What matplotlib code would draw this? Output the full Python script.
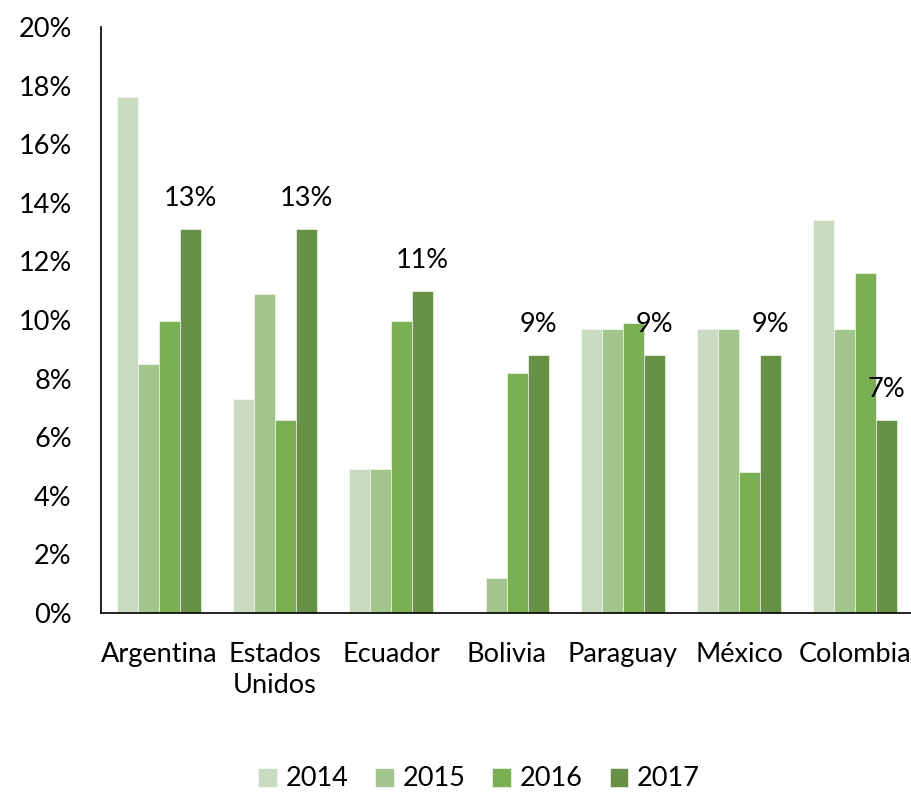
import numpy as np
import matplotlib
matplotlib.use('Agg')
from matplotlib import pyplot as plt
from matplotlib.ticker import FuncFormatter

plt.rcParams['font.family'] = ['Lato', 'DejaVu Sans']

countries = ['Argentina', 'Estados\nUnidos', 'Ecuador', 'Bolivia', 'Paraguay', 'México', 'Colombia']
years = ['2014', '2015', '2016', '2017']
v2014 = [17.6, 7.3, 4.9, 0.0, 9.7, 9.7, 13.4]
v2015 = [8.5, 10.9, 4.9, 1.2, 9.7, 9.7, 9.7]
v2016 = [9.95, 6.6, 9.95, 8.2, 9.9, 4.8, 11.6]
v2017 = [13.1, 13.1, 11.0, 8.8, 8.8, 8.8, 6.6]
labels2017 = ['13%', '13%', '11%', '9%', '9%', '9%', '7%']

colors = ['#C9DBC0', '#A2C58E', '#7AAF52', '#679245']
fs = 19.5

fig = plt.figure(figsize=(9.12, 7.93), dpi=100)
ax = fig.add_axes([101 / 912, 1 - 613 / 793, 812 / 912, 586 / 793])

x = np.arange(len(countries))
w = 0.18
series = [v2014, v2015, v2016, v2017]
for i, (vals, col, yr) in enumerate(zip(series, colors, years)):
    ax.bar(x + (i - 1.5) * w, vals, w, color=col, label=yr,
           edgecolor='white', linewidth=0.4)

for xi, val, lab in zip(x, v2017, labels2017):
    ax.annotate(lab, xy=(xi + 1.5 * w, val), xytext=(0, 13), textcoords='offset points',
                ha='center', va='bottom', fontsize=fs)

ax.set_xlim(-0.5, 6.5)
ax.set_ylim(0, 20)
ax.set_yticks(np.arange(0, 21, 2))
ax.yaxis.set_major_formatter(FuncFormatter(lambda v, p: '%d%%' % v))
ax.set_xticks(x)
ax.set_xticklabels(countries, linespacing=1.3)
ax.tick_params(axis='both', length=0, labelsize=fs)
ax.tick_params(axis='y', pad=21)
ax.tick_params(axis='x', pad=21)
for s in ['top', 'right']:
    ax.spines[s].set_visible(False)
for s in ['left', 'bottom']:
    ax.spines[s].set_linewidth(1.2)

fig.legend(loc='center', bbox_to_anchor=(479 / 912, 1 - 779 / 793), ncol=4, frameon=False,
           fontsize=fs, handlelength=0.7, handleheight=0.7, handletextpad=0.3, columnspacing=1.0)

plt.savefig('out.png', dpi=100)
